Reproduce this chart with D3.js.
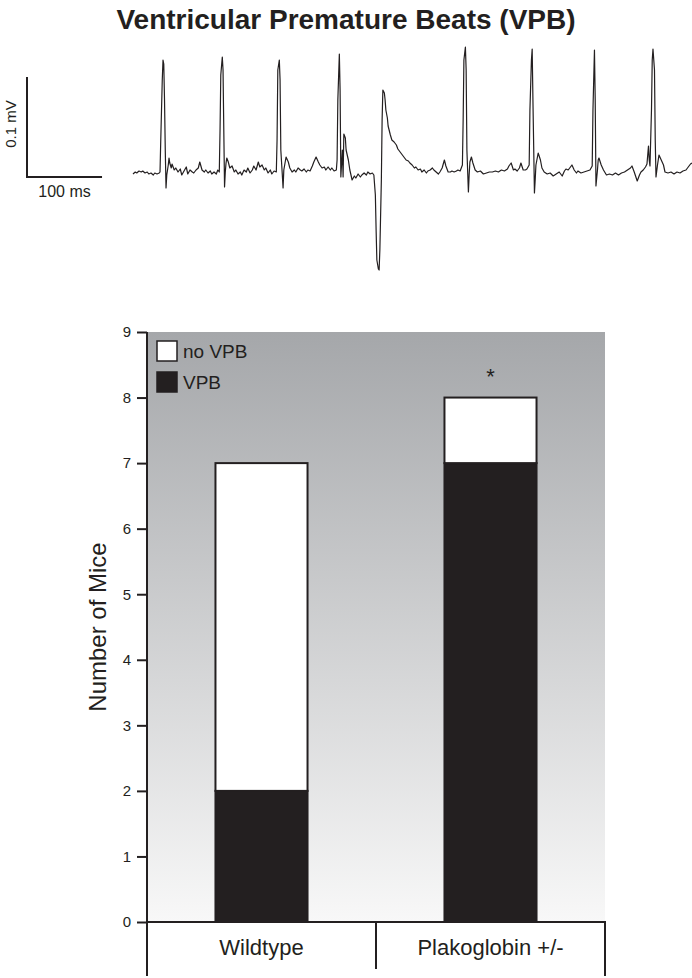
<!DOCTYPE html>
<meta charset="utf-8">

<!-- Load d3.js -->
<script src="https://d3js.org/d3.v7.min.js"></script>

<style>
  body { margin: 0; background: #fff; }
  text { font-family: "Liberation Sans", Arial, sans-serif; fill: #231f20; }
</style>

<!-- Create a div where the graph will take place -->
<div id="my_dataviz"></div>

<script>

// ---- data ----
// ECG trace: [time in ms, voltage in microvolts]
var ecgTrace = [
  [0,-1],[3,1],[5,0],[8,2],[11,1],[13,2],[16,0],[19,1],[21,-1],[24,0],[27,-2],[29,0],[32,-1],[35,0],[36,1],
  [37,33],[39,93],[40,113],[41,109],[42,73],[43,23],[44,-15],[45,-2],[47,8],[48,15],[49,10],[51,5],[52,9],
  [55,3],[57,5],[60,1],[63,4],[65,-2],[68,2],[71,6],[73,-1],[76,3],[79,1],[81,0],[84,3],[87,5],[89,11],
  [92,3],[95,1],[97,3],[100,0],[103,2],[105,-1],[108,1],[111,-1],[113,3],[115,1],
  [116,43],[117,98],[119,116],[120,103],[121,43],[122,-14],[123,1],[124,10],[125,15],[127,11],[129,5],
  [132,7],[135,1],[137,3],[140,-1],[143,1],[145,-2],[148,3],[151,1],[153,5],[156,0],[159,3],[161,7],
  [164,3],[167,11],[169,6],[172,8],[175,3],[177,5],[180,0],[183,3],[185,-1],[188,2],[191,1],
  [192,33],[193,103],[195,113],[196,93],[197,23],[199,-2],[200,-15],[201,3],[204,16],[207,11],[209,5],
  [212,1],[215,3],[217,1],[220,5],[223,3],[225,2],[228,4],[231,1],[233,3],[236,2],[239,7],[241,11],
  [244,16],[247,11],[249,8],[252,5],[255,6],[257,3],[260,6],[263,3],[265,5],[268,2],[271,3],[272,13],
  [273,73],[275,119],[276,83],[277,-4],[279,23],[280,-4],[281,39],[283,35],[284,23],[287,13],[289,3],
  [292,-7],[295,-3],[297,-5],[300,-1],[303,-4],[305,-2],[308,0],[311,-2],[313,1],[316,-1],[319,0],[321,-2],
  [323,-22],[324,-57],[325,-87],[327,-96],[328,-97],[329,-77],[331,-7],[332,53],[333,83],[335,80],
  [336,73],[337,63],[339,55],[340,47],[343,38],[345,33],[348,31],[351,28],[353,24],[356,21],[359,18],
  [361,16],[364,13],[367,12],[369,10],[372,8],[375,5],[377,6],[380,3],[383,4],[385,1],[388,3],[391,0],
  [393,2],[396,3],[399,5],[401,3],[404,1],[407,-1],[409,1],[412,5],[415,13],[417,7],[420,1],[423,1],
  [425,2],[428,1],[431,2],[433,3],[436,2],[439,8],
  [440,53],[441,113],[443,126],[444,103],[445,23],[447,-19],[448,-2],[449,11],[451,16],[453,10],[456,3],
  [459,1],[463,2],[467,-1],[471,0],[475,1],[479,1],[483,2],[487,1],[491,3],[495,2],[499,4],[501,7],
  [504,10],[507,3],[509,4],[512,2],[515,5],[517,10],[520,3],[523,3],[525,4],[528,8],
  [529,63],[531,113],[532,124],[533,73],[535,-20],[536,-7],[537,8],[540,20],[543,13],[545,5],[548,1],
  [552,-1],[556,0],[560,-3],[564,-1],[568,1],[572,-3],[575,2],[577,4],[580,3],[583,6],[585,8],[588,3],
  [591,0],[593,2],[597,0],[601,1],[605,2],[609,3],[612,7],
  [613,63],[615,123],[616,73],[617,-13],[619,3],[620,13],[621,15],[624,8],[627,3],[631,-2],[635,-1],
  [639,-2],[643,0],[647,-2],[651,0],[655,1],[659,3],[663,5],[665,7],[668,1],[672,-8],[675,-2],[677,1],
  [680,3],[683,6],[685,9],[687,27],[688,13],[689,7],
  [691,63],[692,113],[693,124],[695,103],[696,33],[697,-4],[699,8],[701,18],[704,13],[707,8],[709,1],
  [713,0],[717,1],[721,-1],[725,1],[729,0],[733,2],[737,3],[740,6],[743,9],[745,10]
];

// bar chart
var groups = ["Wildtype", "Plakoglobin +/-"];
var vpb = [2, 7];
var noVpb = [5, 1];
var keys = ["VPB", "no VPB"];
var legendLabels = ["no VPB", "VPB"];
var yTicks = [0, 1, 2, 3, 4, 5, 6, 7, 8, 9];

var ink = "#231f20";

var svg = d3.select("#my_dataviz")
  .append("svg")
    .attr("width", 692)
    .attr("height", 978);

// ---- title ----
svg.append("text")
  .attr("x", 346)
  .attr("y", 29)
  .attr("text-anchor", "middle")
  .style("font-size", "28px")
  .style("font-weight", "bold")
  .text("Ventricular Premature Beats (VPB)");

// ---- ECG trace ----
var tx = d3.scaleLinear().domain([0, 745]).range([133, 692]);
var ty = d3.scaleLinear().domain([0, 100]).range([173, 73]);

svg.append("path")
  .datum(ecgTrace)
  .attr("fill", "none")
  .attr("stroke", ink)
  .attr("stroke-width", 1.2)
  .attr("stroke-linejoin", "round")
  .attr("d", d3.line()
    .x(function(d) { return tx(d[0]); })
    .y(function(d) { return ty(d[1]); }));

// scale bar: 100 ms x 100 uV (0.1 mV)
var sbX = 27, sbY = 177;
var sbW = tx(100) - tx(0), sbH = ty(0) - ty(100);
svg.append("path")
  .attr("fill", "none")
  .attr("stroke", ink)
  .attr("stroke-width", 2)
  .attr("d", "M" + sbX + "," + (sbY - sbH) + "V" + sbY + "H" + (sbX + sbW));
svg.append("text")
  .attr("x", sbX + sbW / 2)
  .attr("y", 197)
  .attr("text-anchor", "middle")
  .style("font-size", "16px")
  .text("100 ms");
svg.append("text")
  .attr("transform", "translate(16,124) rotate(-90)")
  .attr("text-anchor", "middle")
  .style("font-size", "15px")
  .text("0.1 mV");

// ---- bar chart ----
var plotLeft = 147, plotRight = 605, plotTop = 332, plotBottom = 922;

var x = d3.scaleBand()
  .domain(groups)
  .range([plotLeft, plotRight])
  .paddingInner(0.598)
  .paddingOuter(0.299);

var y = d3.scaleLinear()
  .domain([0, 9])
  .range([plotBottom, plotTop]);

// gradient background
var defs = svg.append("defs");
var grad = defs.append("linearGradient")
  .attr("id", "bg")
  .attr("x1", 0).attr("y1", 0).attr("x2", 0).attr("y2", 1);
grad.append("stop").attr("offset", "0%").attr("stop-color", "#a5a7aa");
grad.append("stop").attr("offset", "100%").attr("stop-color", "#f8f8f8");

svg.append("rect")
  .attr("x", plotLeft)
  .attr("y", plotTop)
  .attr("width", plotRight - plotLeft)
  .attr("height", plotBottom - plotTop)
  .attr("fill", "url(#bg)");

// stacked bars
var table = groups.map(function(g, i) { return {group: g, "VPB": vpb[i], "no VPB": noVpb[i]}; });
var stacked = d3.stack().keys(keys)(table);
var fills = {"VPB": ink, "no VPB": "#ffffff"};

svg.append("g")
  .selectAll("g")
  .data(stacked)
  .enter()
  .append("g")
    .attr("fill", function(d) { return fills[d.key]; })
  .selectAll("rect")
  .data(function(d) { return d; })
  .enter()
  .append("rect")
    .attr("x", function(d) { return x(d.data.group); })
    .attr("y", function(d) { return y(d[1]); })
    .attr("width", x.bandwidth())
    .attr("height", function(d) { return y(d[0]) - y(d[1]); })
    .attr("stroke", ink)
    .attr("stroke-width", 2);

// significance star over Plakoglobin
svg.append("text")
  .attr("x", x(groups[1]) + x.bandwidth() / 2)
  .attr("y", y(vpb[1] + noVpb[1]) - 14)
  .attr("text-anchor", "middle")
  .style("font-size", "22px")
  .text("*");

// y axis
var yAxis = svg.append("g")
  .attr("transform", "translate(" + plotLeft + ",0)")
  .call(d3.axisLeft(y).tickValues(yTicks).tickSize(10).tickPadding(6));
yAxis.selectAll("path, line").attr("stroke", ink).attr("stroke-width", 2);
yAxis.select(".domain").attr("d", "M0," + plotTop + "V" + plotBottom);
yAxis.selectAll("text")
  .style("font-size", "15px")
  .style("font-family", "Liberation Sans, Arial, sans-serif")
  .attr("fill", ink);

svg.append("text")
  .attr("transform", "translate(106," + ((plotTop + plotBottom) / 2) + ") rotate(-90)")
  .attr("text-anchor", "middle")
  .style("font-size", "24px")
  .text("Number of Mice");

// x axis with category boxes
svg.append("path")
  .attr("fill", "none")
  .attr("stroke", ink)
  .attr("stroke-width", 2)
  .attr("d", "M" + plotLeft + ",976V" + plotBottom + "H" + plotRight + "V976");
var mid = (plotLeft + plotRight) / 2;
svg.append("line")
  .attr("x1", mid).attr("x2", mid)
  .attr("y1", plotBottom).attr("y2", 969)
  .attr("stroke", ink)
  .attr("stroke-width", 2);

svg.append("g")
  .selectAll("text")
  .data(groups)
  .enter()
  .append("text")
    .attr("x", function(d) { return x(d) + x.bandwidth() / 2; })
    .attr("y", 955)
    .attr("text-anchor", "middle")
    .style("font-size", "22px")
    .text(function(d) { return d; });

// legend
var legend = svg.append("g")
  .selectAll("g")
  .data(legendLabels)
  .enter()
  .append("g")
    .attr("transform", function(d, i) { return "translate(157," + (341 + i * 31) + ")"; });
legend.append("rect")
  .attr("width", 20)
  .attr("height", 20)
  .attr("fill", function(d) { return fills[d]; })
  .attr("stroke", ink)
  .attr("stroke-width", 1.5);
legend.append("text")
  .attr("x", 26)
  .attr("y", 17)
  .style("font-size", "19px")
  .text(function(d) { return d; });

</script>
